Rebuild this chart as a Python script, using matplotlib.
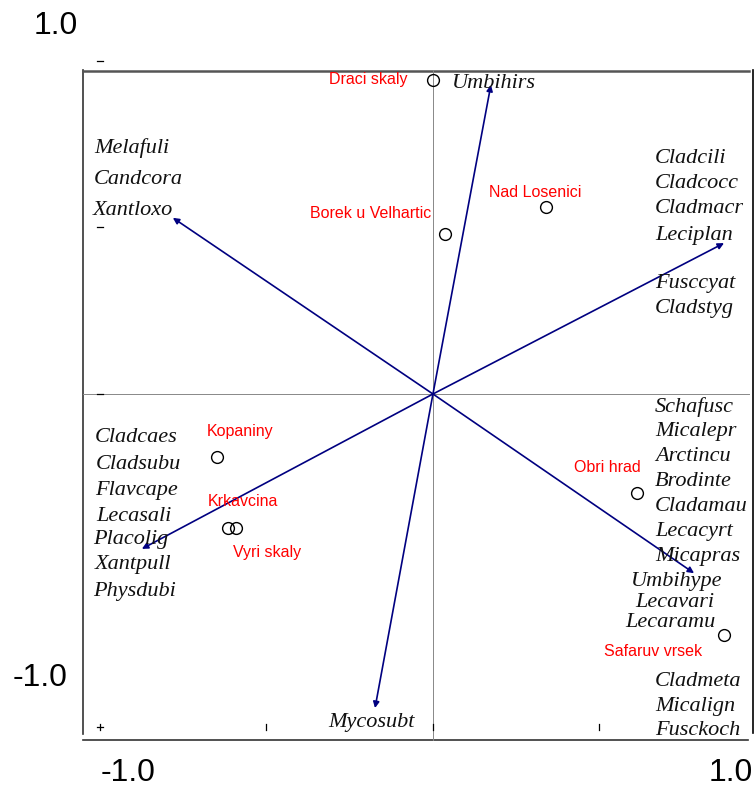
import matplotlib
matplotlib.use("Agg")
import matplotlib.pyplot as plt

# arrow tips (axis 1, axis 2)
arrow_tips = [(0.174, 0.928), (0.874, 0.453), (-0.781, 0.529),
              (-0.874, -0.465), (-0.174, -0.943), (0.784, -0.538)]

# sample scores
site_names = ["Draci skaly", "Borek u Velhartic", "Nad Losenici", "Kopaniny",
              "Krkavcina", "Vyri skaly", "Obri hrad", "Safaruv vrsek"]
site_x = [0.0, 0.036, 0.339, -0.649, -0.616, -0.592, 0.613, 0.874]
site_y = [0.943, 0.480, 0.562, -0.189, -0.402, -0.402, -0.297, -0.724]
# where the site labels sit (left edge, centre)
site_lab_x = [-0.312, -0.369, 0.168, -0.679, -0.676, -0.601, 0.423, 0.514]
site_lab_y = [0.943, 0.541, 0.604, -0.114, -0.324, -0.477, -0.222, -0.772]

# species labels
species = ["Umbihirs", "Melafuli", "Candcora", "Xantloxo",
           "Cladcili", "Cladcocc", "Cladmacr", "Leciplan", "Fusccyat", "Cladstyg",
           "Schafusc", "Micalepr", "Arctincu", "Brodinte", "Cladamau", "Lecacyrt",
           "Micapras", "Umbihype", "Lecavari", "Lecaramu",
           "Cladmeta", "Micalign", "Fusckoch",
           "Cladcaes", "Cladsubu", "Flavcape", "Lecasali", "Placolig", "Xantpull",
           "Physdubi", "Mycosubt"]
species_x = [0.057, -1.018, -1.018, -1.021,
             0.667, 0.667, 0.667, 0.667, 0.667, 0.667,
             0.667, 0.667, 0.667, 0.667, 0.667, 0.667,
             0.667, 0.595, 0.607, 0.577,
             0.667, 0.667, 0.667,
             -1.015, -1.012, -1.015, -1.012, -1.021, -1.015,
             -1.021, -0.315]
species_y = [0.931, 0.739, 0.643, 0.550,
             0.706, 0.631, 0.556, 0.477, 0.333, 0.258,
             -0.039, -0.114, -0.189, -0.264, -0.339, -0.414,
             -0.489, -0.562, -0.625, -0.685,
             -0.862, -0.937, -1.009,
             -0.132, -0.213, -0.291, -0.369, -0.438, -0.511,
             -0.592, -0.985]

fig = plt.figure(figsize=(7.56, 7.89), dpi=100)
ax = fig.add_axes([0, 0, 1, 1])
ax.set_xlim(-1.300, 0.970)
ax.set_ylim(-1.186, 1.183)
ax.axis("off")

# frame (a bit ragged, like the original export)
ax.plot([-1.051, -1.051], [0.973, -1.021], color="#333333", lw=1.2)
ax.plot([-1.051, 0.949], [0.970, 0.970], color="#555555", lw=1.8)
ax.plot([0.961, 0.961], [0.973, -1.018], color="black", lw=1.2)
ax.plot([-1.051, 0.946], [-1.039, -1.039], color="#333333", lw=1.2)

# zero lines
ax.plot([-1.051, 0.949], [0, 0], color="#888888", lw=0.7)
ax.plot([0, 0], [0.973, -1.039], color="#888888", lw=0.7)

# tick marks
for ty in [1.0, 0.5, 0.0, -1.0]:
    ax.plot([-1.009, -0.991], [ty, ty], color="black", lw=0.9)
for tx in [-1.0, -0.5, 0.0, 0.5]:
    ax.plot([tx, tx], [-1.009, -0.991], color="black", lw=0.9)

# axis labels
lab = dict(family="Liberation Sans", fontsize=23, color="black", va="center", ha="center")
ax.text(-1.132, 1.106, "1.0", **lab)
ax.text(-1.180, -0.853, "-1.0", **lab)
ax.text(-0.915, -1.138, "-1.0", **lab)
ax.text(0.893, -1.138, "1.0", **lab)

# arrows
for tx, ty in arrow_tips:
    ax.annotate("", xy=(tx, ty), xytext=(0, 0),
                arrowprops=dict(arrowstyle="-|>", color="#000080", lw=1.2,
                                mutation_scale=9, shrinkA=0, shrinkB=0))

# sites
ax.plot(site_x, site_y, "o", ms=8.5, mfc="none", mec="black", mew=1.0)
for name, lx, ly in zip(site_names, site_lab_x, site_lab_y):
    ax.text(lx, ly, name, family="Liberation Sans", fontsize=11.5, color="red",
            ha="left", va="center")

# species
for name, sx, sy in zip(species, species_x, species_y):
    ax.text(sx, sy, name, family="Liberation Serif", style="italic", fontsize=16,
            color="#111111", ha="left", va="center")

fig.savefig("out.png", dpi=100)
